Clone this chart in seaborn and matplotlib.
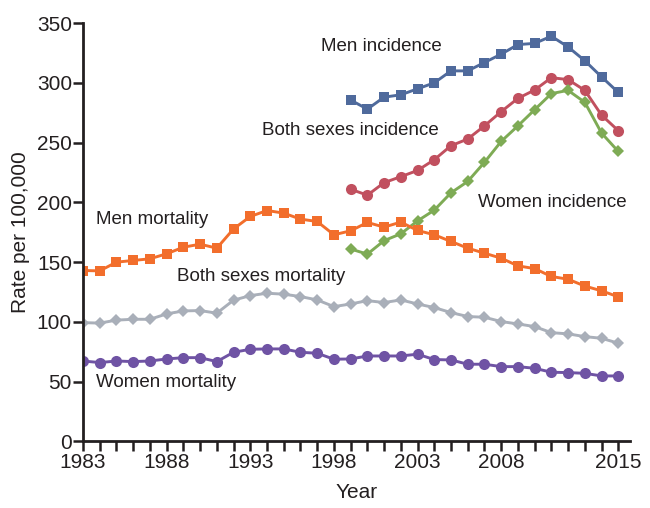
import pandas as pd
import matplotlib
matplotlib.use("Agg")
import matplotlib.pyplot as plt
import seaborn as sns
from matplotlib.ticker import FixedLocator

# anos
years_mort = list(range(1983, 2016))
years_inc = list(range(1999, 2016))

# mortalidade
men_mortality = [143, 142.7, 150, 151.4, 152.8, 157, 162.5, 165, 161.7, 177.8, 188.2,
                 193.2, 191, 186, 184, 172.9, 176.2, 183.2, 179.3, 183.5, 176.5, 172.9,
                 167.3, 161.7, 157.5, 153.3, 146.9, 144.6, 138, 135.7, 130, 126, 121]
both_mortality = [99.4, 99, 101.5, 102.2, 102.2, 106.7, 109.2, 109.5, 107.3, 118.2, 122,
                  124, 123.2, 121.2, 118.4, 112.8, 115, 117.8, 116.2, 118.4, 115, 112,
                  107.8, 104.5, 103.9, 100.3, 98.3, 96.1, 91, 90, 87.7, 86.3, 82.2]
women_mortality = [67.3, 66, 67.3, 66.8, 67.3, 69, 70.1, 70.1, 66.8, 74.6, 77.1,
                   77.4, 77.4, 74.6, 73.8, 68.8, 69, 71.5, 71.5, 71.5, 73, 68.5,
                   68.2, 64.6, 64.6, 62.6, 62.6, 61.2, 57.9, 57.6, 57, 54.8, 54.8]

# incidencia
men_incidence = [285.6, 278, 288, 290, 295, 300, 310, 310, 317, 324, 332, 333,
                 339, 330, 318.5, 305, 292]
both_incidence = [211, 206, 216.5, 221.5, 226.7, 235.7, 247.4, 253, 264, 275.9, 287,
                  294, 304.3, 302.7, 293.7, 273, 260]
women_incidence = [161, 156.7, 168, 173.7, 184.5, 193.5, 208, 217.5, 233.5, 251, 264,
                   277.5, 291, 293.7, 283.7, 258, 242.6]

series = {
    "Men incidence": (years_inc, men_incidence),
    "Both sexes incidence": (years_inc, both_incidence),
    "Women incidence": (years_inc, women_incidence),
    "Men mortality": (years_mort, men_mortality),
    "Both sexes mortality": (years_mort, both_mortality),
    "Women mortality": (years_mort, women_mortality),
}
rows = []
for nome, (anos, vals) in series.items():
    for a, v in zip(anos, vals):
        rows.append({"Year": a, "Rate": v, "Serie": nome})
df = pd.DataFrame(rows)

cores = {
    "Men incidence": "#4F6A9C",
    "Both sexes incidence": "#C1505F",
    "Women incidence": "#7EAB55",
    "Men mortality": "#F26E2C",
    "Both sexes mortality": "#A9AFB9",
    "Women mortality": "#6F53A4",
}
marcadores = {
    "Men incidence": "s",
    "Both sexes incidence": "o",
    "Women incidence": "D",
    "Men mortality": "s",
    "Both sexes mortality": "D",
    "Women mortality": "o",
}

sns.set_style("white")
plt.rcParams["font.family"] = ["Liberation Sans", "DejaVu Sans"]

fig = plt.figure(figsize=(6.5, 5.08), dpi=100)
ax = fig.add_axes([0.1277, 0.131, 0.8415, 0.8236])

for nome in series:
    sub = df[df["Serie"] == nome]
    m = marcadores[nome]
    ms = {"s": 7, "o": 8, "D": 6.5}[m]
    sns.lineplot(data=sub, x="Year", y="Rate", color=cores[nome], marker=m,
                 markersize=ms, markeredgewidth=0, linewidth=2.1, ax=ax, legend=False)

# rotulos das series
rotulos = [
    ("Men incidence", 1997.2, 330),
    ("Both sexes incidence", 1993.7, 260),
    ("Women incidence", 2006.6, 199.7),
    ("Men mortality", 1983.8, 185.4),
    ("Both sexes mortality", 1988.6, 137.7),
    ("Women mortality", 1983.8, 48.9),
]
for txt, x, y in rotulos:
    ax.text(x, y, txt, fontsize=13.5, color="#231F20", va="center", ha="left")

ax.set_xlim(1983, 2015.7)
ax.set_ylim(0, 350)
ax.xaxis.set_major_locator(FixedLocator(years_mort))
rot_x = [1983, 1988, 1993, 1998, 2003, 2008, 2015]
ax.set_xticklabels([str(a) if a in rot_x else "" for a in years_mort])
ax.set_yticks(range(0, 351, 50))

for s in ["top", "right"]:
    ax.spines[s].set_visible(False)
for s in ["left", "bottom"]:
    ax.spines[s].set_linewidth(2)
    ax.spines[s].set_color("#231F20")
ax.tick_params(axis="both", direction="out", length=7, width=1.8, color="#231F20",
               labelcolor="#231F20", labelsize=15, bottom=True, left=True)
ax.tick_params(axis="y", pad=1)
ax.tick_params(axis="x", pad=1)

ax.set_xlabel("Year", fontsize=15, color="#231F20", labelpad=8)
ax.set_ylabel("Rate per 100,000", fontsize=15, color="#231F20", labelpad=5)

plt.savefig("out.png", dpi=100)
plt.close()
